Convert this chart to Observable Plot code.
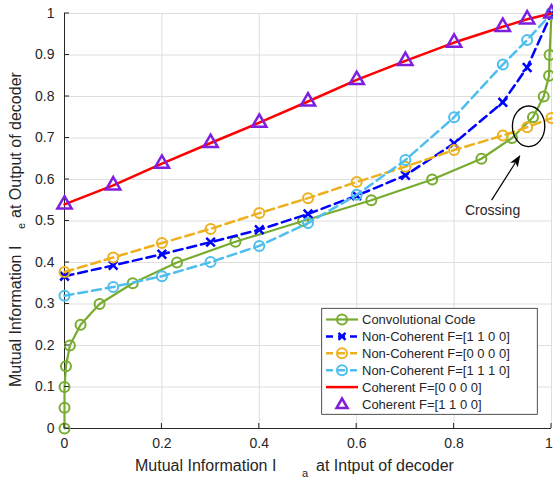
<!DOCTYPE html>
<html><head><meta charset="utf-8">
<script src="https://cdn.jsdelivr.net/npm/d3@7"></script>
<script src="https://cdn.jsdelivr.net/npm/@observablehq/plot@0.6"></script>
<style>body{margin:0;background:#fff;} svg{display:block}</style>
</head><body><div id="chart"></div>
<script>
const xTicks = [0, 0.2, 0.4, 0.6, 0.8, 1];
const xTickLabels = ["0", "0.2", "0.4", "0.6", "0.8", "1"];
const yTicks = [0, 0.1, 0.2, 0.3, 0.4, 0.5, 0.6, 0.7, 0.8, 0.9, 1];
const yTickLabels = ["0", "0.1", "0.2", "0.3", "0.4", "0.5", "0.6", "0.7", "0.8", "0.9", "1"];

// Convolutional code (Ia as a function of Ie)
const convX = [0, 0, 0, 0.003, 0.011, 0.033, 0.072, 0.14, 0.231, 0.351, 0.49, 0.63, 0.755, 0.856, 0.919, 0.962, 0.984, 0.995, 0.996, 1.0];
const convY = [0, 0.05, 0.1, 0.15, 0.2, 0.25, 0.3, 0.35, 0.4, 0.45, 0.5, 0.55, 0.6, 0.65, 0.7, 0.75, 0.8, 0.85, 0.9, 1.0];

const ia = [0, 0.1, 0.2, 0.3, 0.4, 0.5, 0.6, 0.7, 0.8, 0.9, 0.95, 1];
const nonCoh1100 = [0.367, 0.393, 0.42, 0.449, 0.479, 0.517, 0.561, 0.61, 0.687, 0.786, 0.87, 1.0];
const nonCoh0000 = [0.377, 0.412, 0.447, 0.481, 0.519, 0.555, 0.594, 0.631, 0.671, 0.706, 0.726, 0.748];
const nonCoh1110 = [0.32, 0.341, 0.367, 0.401, 0.44, 0.495, 0.563, 0.647, 0.75, 0.877, 0.936, 1.0];
const coh0000 = [0.54, 0.586, 0.638, 0.688, 0.737, 0.788, 0.84, 0.886, 0.93, 0.968, 0.986, 1.0];
const coh1100 = [0.54, 0.586, 0.638, 0.688, 0.737, 0.788, 0.84, 0.886, 0.93, 0.968, 0.986, 1.0];

const seriesNames = ["Convolutional Code", "Non-Coherent F=[1 1 0 0]", "Non-Coherent F=[0 0 0 0]", "Non-Coherent F=[1 1 1 0]", "Coherent F=[0 0 0 0]", "Coherent F=[1 1 0 0]"];
const seriesColors = ["#77AC30", "#0000FF", "#EDB120", "#4DBEEE", "#FF0000", "#7E1FE0"];

const crossingCenter = [0.954, 0.727];
const arrowFrom = [0.878, 0.549];
const arrowTo = [0.937, 0.658];
const crossingText = [{x: 0.879, y: 0.5255, t: "Crossing"}];

const toRows = (xs, ys) => xs.map((x, i) => ({x, y: ys[i]}));
const conv = toRows(convX, convY);
const s1100 = toRows(ia, nonCoh1100);
const s0000 = toRows(ia, nonCoh0000);
const s1110 = toRows(ia, nonCoh1110);
const c0000 = toRows(ia, coh0000);
const c1100 = toRows(ia, coh1100);

const FONT = "'Liberation Sans', Arial, Helvetica, sans-serif";
const INK = "#262626";
const DASH = "9,5";
const xFmt = d => xTickLabels[xTicks.indexOf(d)];

const chart = Plot.plot({
  width: 553, height: 477,
  marginLeft: 64, marginRight: 2, marginTop: 13, marginBottom: 49,
  x: {domain: [0, 1]},
  y: {domain: [0, 1]},
  style: {fontFamily: FONT, fontSize: "14px", color: INK, background: "#fff", overflow: "visible"},
  marks: [
    Plot.gridX(xTicks, {stroke: "#dedede", strokeOpacity: 1, strokeWidth: 1}),
    Plot.gridY(yTicks, {stroke: "#dedede", strokeOpacity: 1, strokeWidth: 1}),
    Plot.axisX(xTicks.slice(0, -1), {tickSize: 0, tickPadding: 10, fontSize: 14, fill: INK, label: null, tickFormat: xFmt}),
    Plot.axisX(xTicks.slice(-1), {tickSize: 0, tickPadding: 10, fontSize: 14, fill: INK, label: null, tickFormat: xFmt, dx: -2.5}),
    Plot.axisY(yTicks, {tickSize: 0, tickPadding: 10, fontSize: 14, fill: INK, label: null,
      tickFormat: d => yTickLabels[yTicks.indexOf(d)]}),
    Plot.ruleX([0], {stroke: INK, strokeWidth: 1}),
    Plot.ruleY([0], {stroke: INK, strokeWidth: 1}),
    Plot.line(conv, {x: "x", y: "y", stroke: seriesColors[0], strokeWidth: 2.2}),
    Plot.dot(conv, {x: "x", y: "y", r: 5, stroke: seriesColors[0], strokeWidth: 2, fill: "none"}),
    Plot.line(s1100, {x: "x", y: "y", stroke: seriesColors[1], strokeWidth: 2.5, strokeDasharray: DASH}),
    Plot.dot(s1100, {x: "x", y: "y", symbol: "times", r: 4, stroke: seriesColors[1], strokeWidth: 2.5}),
    Plot.line(s0000, {x: "x", y: "y", stroke: seriesColors[2], strokeWidth: 2.5, strokeDasharray: DASH}),
    Plot.dot(s0000, {x: "x", y: "y", r: 5, stroke: seriesColors[2], strokeWidth: 2, fill: "none"}),
    Plot.line(s1110, {x: "x", y: "y", stroke: seriesColors[3], strokeWidth: 2.5, strokeDasharray: DASH}),
    Plot.dot(s1110, {x: "x", y: "y", r: 5, stroke: seriesColors[3], strokeWidth: 2, fill: "none"}),
    Plot.line(c0000, {x: "x", y: "y", stroke: seriesColors[4], strokeWidth: 2.5}),
    Plot.dot(c1100, {x: "x", y: "y", symbol: "triangle", r: 5.3, stroke: seriesColors[5], strokeWidth: 2.5, fill: "none"}),
    Plot.text(crossingText, {x: "x", y: "y", text: "t", fontSize: 14, fill: INK, textAnchor: "middle"})
  ]
});
document.getElementById("chart").appendChild(chart);

const svg = d3.select(chart);
const sx = v => chart.scale("x").apply(v);
const sy = v => chart.scale("y").apply(v);

// inward ticks
const tk = svg.append("g").attr("stroke", INK).attr("stroke-width", 1);
xTicks.forEach(t => tk.append("line").attr("x1", sx(t)).attr("x2", sx(t)).attr("y1", sy(0)).attr("y2", sy(0) - 5));
yTicks.forEach(t => tk.append("line").attr("x1", sx(0)).attr("x2", sx(0) + 5).attr("y1", sy(t)).attr("y2", sy(t)));

// crossing ellipse and arrow
svg.append("ellipse").attr("cx", sx(crossingCenter[0])).attr("cy", sy(crossingCenter[1]))
  .attr("rx", 16.2).attr("ry", 20.3).attr("fill", "none").attr("stroke", "#000").attr("stroke-width", 1.3);
{
  const x1 = sx(arrowFrom[0]), y1 = sy(arrowFrom[1]), x2 = sx(arrowTo[0]), y2 = sy(arrowTo[1]);
  const dx = x2 - x1, dy = y2 - y1, L = Math.hypot(dx, dy), ux = dx / L, uy = dy / L;
  const hl = 12, hw = 4.5, back = 9;
  svg.append("line").attr("x1", x1).attr("y1", y1).attr("x2", x2 - ux * back).attr("y2", y2 - uy * back)
    .attr("stroke", "#000").attr("stroke-width", 1.2);
  const bx = x2 - ux * hl, by = y2 - uy * hl, nx = -uy, ny = ux;
  const nbx = x2 - ux * back, nby = y2 - uy * back;
  svg.append("polygon").attr("points", [[x2, y2], [bx + nx * hw, by + ny * hw], [nbx, nby], [bx - nx * hw, by - ny * hw]].map(p => p.join(",")).join(" "))
    .attr("fill", "#000");
}

// axis labels
const lab = svg.append("g").attr("fill", INK).attr("font-family", FONT).attr("text-anchor", "start");
lab.append("text").attr("x", 135).attr("y", 471).attr("font-size", 16).text("Mutual Information I");
lab.append("text").attr("x", 302).attr("y", 476.5).attr("font-size", 11).text("a");
lab.append("text").attr("x", 316).attr("y", 471).attr("font-size", 16).text("at Intput of decoder");
lab.append("text").attr("transform", "translate(20.5,387) rotate(-90)").attr("font-size", 16).text("Mutual Information I");
lab.append("text").attr("transform", "translate(25,229) rotate(-90)").attr("font-size", 11).text("e");
lab.append("text").attr("transform", "translate(20.5,218) rotate(-90)").attr("font-size", 16).text("at Output of decoder");

// legend
const lg = svg.append("g").attr("font-family", FONT).attr("text-anchor", "start");
lg.append("rect").attr("x", 321.7).attr("y", 308.3).attr("width", 215.6).attr("height", 106)
  .attr("fill", "#fff").attr("stroke", INK).attr("stroke-width", 0.8);
const rowY = i => 319.5 + i * 16.9;
const markers = ["circle", "times", "circle", "circle", null, "triangle"];
const hasLine = [true, true, true, true, true, false];
const dashed = [false, true, true, true, false, false];
seriesNames.forEach((name, i) => {
  const y = rowY(i), c = seriesColors[i], mx = 342;
  if (hasLine[i]) lg.append("line").attr("x1", 326).attr("x2", 358).attr("y1", y).attr("y2", y)
    .attr("stroke", c).attr("stroke-width", i === 0 ? 2.2 : 2.5).attr("stroke-dasharray", dashed[i] ? "7,5" : null);
  if (markers[i] === "circle") lg.append("circle").attr("cx", mx).attr("cy", y).attr("r", 5).attr("fill", "none").attr("stroke", c).attr("stroke-width", 2);
  if (markers[i] === "times") lg.append("path").attr("d", `M${mx-3.5},${y-3.5}L${mx+3.5},${y+3.5}M${mx-3.5},${y+3.5}L${mx+3.5},${y-3.5}`).attr("stroke", c).attr("stroke-width", 2.5);
  if (markers[i] === "triangle") lg.append("path").attr("d", `M${mx},${y-5.5}L${mx+5.5},${y+4}L${mx-5.5},${y+4}Z`).attr("fill", "none").attr("stroke", c).attr("stroke-width", 2.5);
  lg.append("text").attr("x", 362).attr("y", y).attr("dy", "0.35em").attr("font-size", 13).attr("fill", INK).text(name);
});
</script>
</body></html>
